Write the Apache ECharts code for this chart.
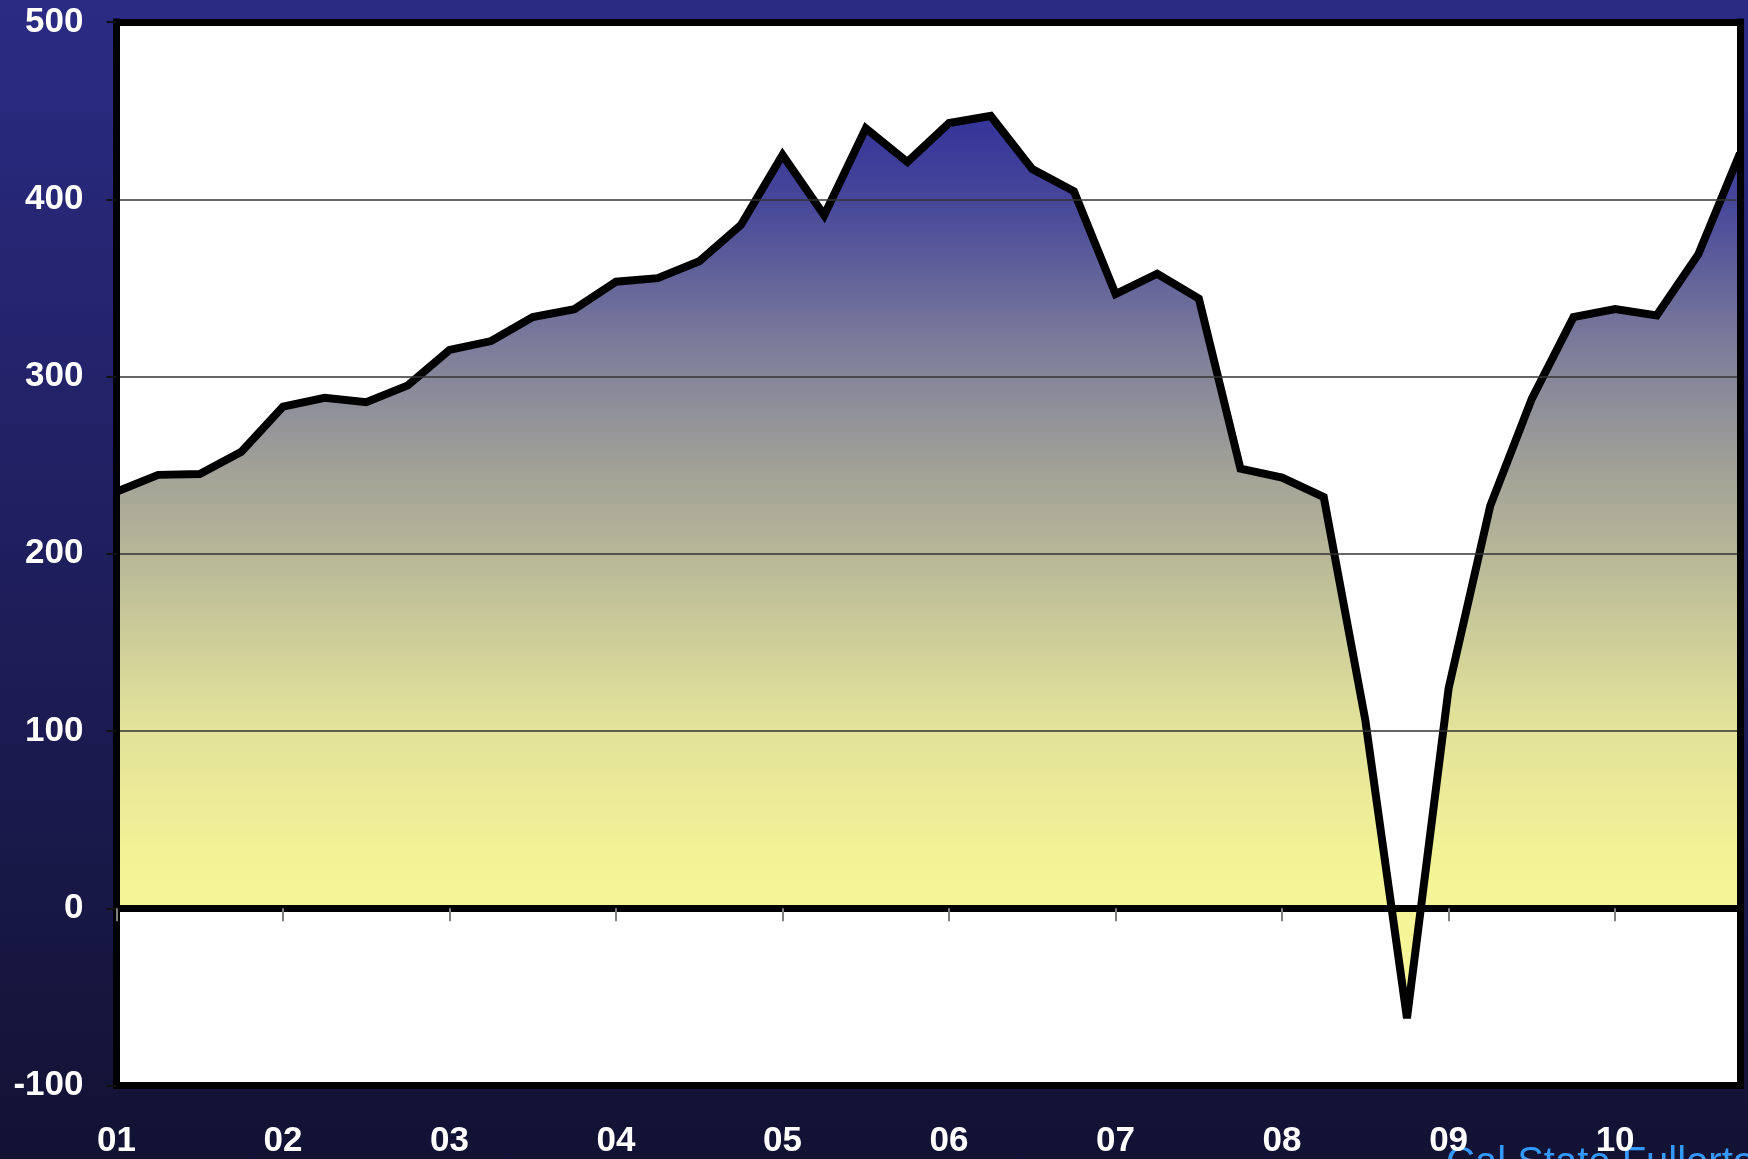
<!DOCTYPE html>
<html>
<head>
<meta charset="utf-8">
<script src="https://cdn.jsdelivr.net/npm/echarts@6/dist/echarts.min.js"></script>
<style>
    html, body { margin: 0; padding: 0; }
    #chart {
        width: 1748px;
        height: 1159px;
        background: linear-gradient(to bottom, #2b2b84 0%, #1f1e5c 50%, #121233 100%);
    }
</style>
</head>
<body>
<div id="chart"></div>
<script>
    // years shown on the axis, one category per quarter
    var years = ['01', '02', '03', '04', '05', '06', '07', '08', '09', '10'];
    var quarters = ['Q1', 'Q2', 'Q3', 'Q4'];

    var values = [235, 244.5, 245, 257.5, 283, 288, 285.5, 295,
        315, 320, 333.5, 338, 353.5, 355.5, 365, 385.5,
        425, 391, 440, 421, 443, 447, 417, 404.5,
        346.5, 358, 344, 248, 243, 232, 106, -62,
        124, 227, 287.5, 333.5, 338, 334.5, 369, 426];

    var yTicks = [-100, 0, 100, 200, 300, 400, 500];

    // fill colour by value (blue at the top, yellow down at zero)
    var fillStops = [[447, '#34349a'], [400, '#46469a'], [325, '#77779a'], [300, '#86869a'],
        [250, '#a0a098'], [200, '#b7b798'], [111, '#e0e09a'], [24, '#f4f496'],
        [0, '#f5f598'], [-62, '#f7f798']];

    var categories = [];
    years.forEach(function (y) {
        quarters.forEach(function (q) { categories.push(y + ' ' + q); });
    });

    var vmax = Math.max.apply(null, values);
    var vmin = Math.min(0, Math.min.apply(null, values));
    var colorStops = fillStops.map(function (s) {
        return { offset: Math.min(1, Math.max(0, (vmax - s[0]) / (vmax - vmin))), color: s[1] };
    });

    var font = '"Liberation Sans", Arial, sans-serif';
    var frameLine = { color: '#000', width: 7, cap: 'square' };

    var myChart = echarts.init(document.getElementById('chart'));

    var option = {
        animation: false,
        title: {
            text: 'Cal State Fullerton',
            left: 1446,
            top: 1144,
            padding: 0,
            textStyle: { color: '#3399ff', fontSize: 40, fontWeight: 'normal', fontFamily: font }
        },
        grid: {
            left: 116.5,
            top: 22,
            right: 8,
            bottom: 73.5,
            show: true,
            backgroundColor: '#fff',
            borderWidth: 0
        },
        xAxis: [{
            type: 'category',
            data: categories,
            boundaryGap: false,
            position: 'bottom',
            z: 10,
            axisLine: { show: true, onZero: false, lineStyle: frameLine },
            axisTick: { show: false },
            axisLabel: {
                interval: 3,
                margin: 38,
                color: '#fff',
                fontSize: 35,
                fontWeight: 'bold',
                fontFamily: font,
                formatter: function (v) { return v.split(' ')[0]; }
            },
            splitLine: { show: false }
        }, {
            // zero line with the year ticks
            type: 'category',
            data: categories,
            boundaryGap: false,
            position: 'bottom',
            z: 10,
            axisLine: { show: true, onZero: true, lineStyle: { color: '#000', width: 7 } },
            axisTick: { show: true, interval: 3, length: 13, lineStyle: { color: '#808080', width: 2 } },
            axisLabel: { show: false },
            splitLine: { show: false }
        }, {
            type: 'category',
            data: categories,
            boundaryGap: false,
            position: 'top',
            z: 10,
            axisLine: { show: true, onZero: false, lineStyle: frameLine },
            axisTick: { show: false },
            axisLabel: { show: false },
            splitLine: { show: false }
        }],
        yAxis: [{
            type: 'value',
            min: yTicks[0],
            max: yTicks[yTicks.length - 1],
            interval: 100,
            position: 'left',
            z: 10,
            axisLine: { show: true, onZero: false, lineStyle: frameLine },
            axisTick: { show: true, length: 10, lineStyle: { color: '#111', width: 2 } },
            axisLabel: { color: '#fff', fontSize: 35, fontWeight: 'bold', fontFamily: font, margin: 33 },
            splitLine: { show: true, lineStyle: { color: '#333', width: 1.5 } }
        }, {
            type: 'value',
            min: yTicks[0],
            max: yTicks[yTicks.length - 1],
            interval: 100,
            position: 'right',
            z: 10,
            axisLine: { show: true, onZero: false, lineStyle: frameLine },
            axisTick: { show: false },
            axisLabel: { show: false },
            splitLine: { show: false }
        }],
        series: [{
            type: 'line',
            xAxisIndex: 0,
            yAxisIndex: 0,
            data: values,
            symbol: 'none',
            lineStyle: { color: '#000', width: 8, join: 'miter', miterLimit: 4 },
            areaStyle: {
                opacity: 1,
                color: new echarts.graphic.LinearGradient(0, 0, 0, 1, colorStops)
            }
        }]
    };

    myChart.setOption(option);
</script>
</body>
</html>
